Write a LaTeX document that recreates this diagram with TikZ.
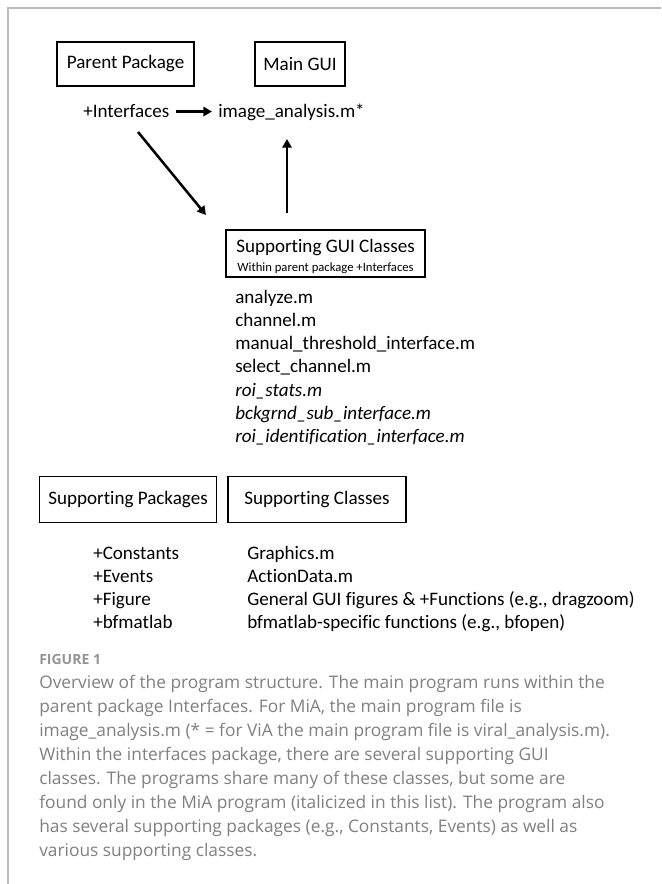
\documentclass[tikz,border=0pt]{standalone}
\usepackage{fontspec}
\setmainfont[Ligatures=NoCommon]{Carlito}
\newfontfamily\capfont{Open Sans}
\usetikzlibrary{arrows.meta}
\definecolor{framegray}{gray}{0.74}
\definecolor{capgray}{gray}{0.5}
\definecolor{figgray}{gray}{0.58}
\begin{document}
\begin{tikzpicture}[x=0.75pt,y=-0.75pt,
  txt/.style={inner sep=0pt, font=\fontsize{14.3pt}{17.5pt}\selectfont},
  box/.style={txt, draw, line width=0.8pt},
  lst/.style={txt, anchor=base west},
  captxt/.style={inner sep=0pt, anchor=base west, text=capgray, font=\capfont\fontsize{13pt}{18pt}\selectfont},
  arr/.style={line width=1.9pt, -{Triangle[length=6.5pt,width=7pt]}}
]
\useasboundingbox (0,0) rectangle (661,884);
\draw[framegray, line width=1.1pt] (8,884) -- (8,8) -- (661,8);

% top
\node[box, minimum width=102.75pt, minimum height=33pt] (pp) at (125.5,64) {Parent Package};
\node[box, minimum width=67.5pt, minimum height=33pt] (mg) at (300,64) {Main GUI};
\node[lst] (int) at (83,118) {+Interfaces};
\node[lst] (ia) at (218,118) {image\_analysis.m*};
\draw[arr, shorten <=5pt, shorten >=4.5pt] (int.east) -- (int.east -| ia.west);

% supporting GUI classes
\node[box, minimum width=149.25pt, minimum height=35.25pt] (gui) at (325.5,253.5) {};
\node[txt] (guit) at (325.5,248) {Supporting GUI Classes};
\node[inner sep=0pt, font=\fontsize{9.5pt}{11pt}\selectfont] (guis) at (325.5,268) {Within parent package +Interfaces};

\coordinate (d1) at (138,132);
\coordinate (d2) at (206,215);
\draw[arr] (d1) -- (d2);
\coordinate (v1) at (287,213);
\coordinate (v2) at (287,139);
\draw[arr] (v1) -- (v2);

\foreach \t [count=\i] in {analyze.m, channel.m, manual\_threshold\_interface.m, select\_channel.m, {\itshape roi\_stats.m}, {\itshape bckgrnd\_sub\_interface.m}, {\itshape roi\_identification\_interface.m}}
  \node[lst] (g\i) at (235,{303+23.33*(\i-1)}) {\t};

% supporting packages / classes
\node[box, minimum width=132.75pt, minimum height=34.5pt] (sp) at (128,499.5) {Supporting Packages};
\node[box, minimum width=133.5pt, minimum height=34.5pt] (sc) at (317,499.5) {Supporting Classes};

\foreach \t [count=\i] in {+Constants, +Events, +Figure, +bfmatlab}
  \node[lst] (p\i) at (93,{559+23*(\i-1)}) {\t};
\foreach \t [count=\i] in {Graphics.m, ActionData.m, General GUI figures \& +Functions (e.g.{,} dragzoom), bfmatlab-specific functions (e.g.{,} bfopen)}
  \node[lst] (k\i) at (247,{559+23*(\i-1)}) {\t};

% caption
\node[inner sep=0pt, anchor=base west, text=figgray, font=\capfont\bfseries\fontsize{10.5pt}{12pt}\selectfont] (fig) at (39,664) {FIGURE 1};
\foreach \t [count=\i] in {
  Overview of the program structure. The main program runs within the,
  parent package Interfaces. For MiA{,} the main program file is,
  image\_analysis.m (* = for ViA the main program file is viral\_analysis.m).,
  Within the interfaces package{,} there are several supporting GUI,
  classes. The programs share many of these classes{,} but some are,
  found only in the MiA program (italicized in this list). The program also,
  has several supporting packages (e.g.{,} Constants{,} Events) as well as,
  various supporting classes.}
  \node[captxt] (c\i) at (39,{688+24*(\i-1)}) {\t};
\end{tikzpicture}
\end{document}
